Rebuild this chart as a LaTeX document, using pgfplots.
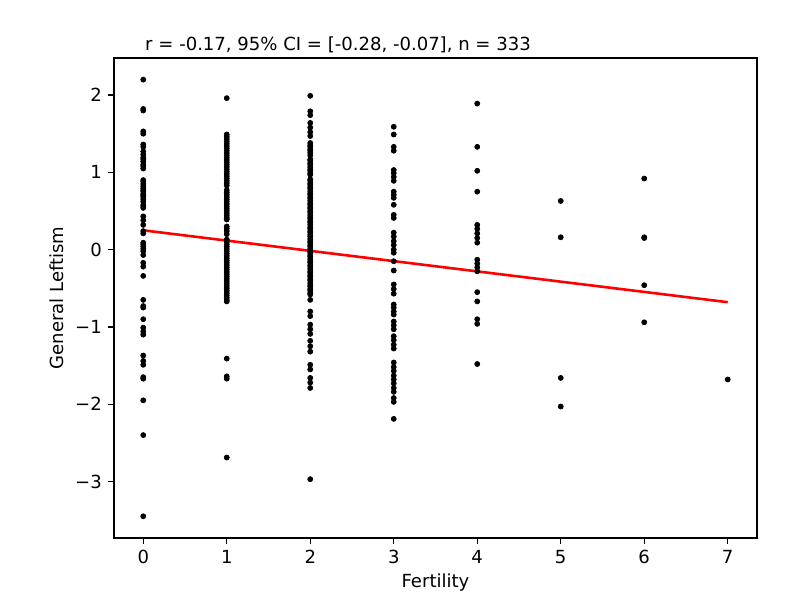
\documentclass[border=0pt]{standalone}
\usepackage{pgfplots}
\pgfplotsset{compat=1.18}
\usepackage{fontspec}
\setmainfont{DejaVu Sans}
\begin{document}
\begin{tikzpicture}
\useasboundingbox (-65.7pt,-36.3pt) rectangle (395.2pt,309.9pt);
\begin{axis}[
  at={(0,0)}, anchor=south west,
  scale only axis, width=370.4pt, height=276.5pt,
  xmin=-0.35, xmax=7.35, ymin=-3.73, ymax=2.48,
  axis line style={line width=0.8pt, black},
  tick style={line width=0.8pt, black},
  tick align=outside, major tick length=3.5pt,
  xtick={0,1,2,3,4,5,6,7},
  xticklabels={0,1,2,3,4,5,6,7},
  ytick={-3,-2,-1,0,1,2},
  yticklabels={−3,−2,−1,0,1,2},
  xtick pos=bottom, ytick pos=left,
  minor tick num=0,
  tick label style={font=\fontsize{10.4}{12}\selectfont},
  label style={font=\fontsize{10.4}{12}\selectfont},
  xlabel={Fertility}, ylabel={General Leftism},
  xlabel style={at={(axis description cs:0.5,-0.104)}, anchor=base},
  ylabel style={at={(axis description cs:-0.089,0.5)}, anchor=center},
  clip=false,
]
\addplot[only marks, mark=*, mark size=1.45pt, black] coordinates {
(0,2.20)(0,1.82)(0,1.80)(0,1.53)(0,1.50)(0,1.36)(0,1.33)(0,1.27)(0,1.23)(0,1.19)(0,1.17)(0,1.14)(0,1.10)(0,1.08)(0,1.05)
(0,0.90)(0,0.88)(0,0.85)(0,0.82)(0,0.79)(0,0.77)(0,0.75)(0,0.72)(0,0.70)(0,0.68)(0,0.65)(0,0.62)(0,0.58)(0,0.56)(0,0.54)
(0,0.43)(0,0.38)(0,0.32)(0,0.24)(0,0.21)(0,0.09)(0,0.07)(0,0.04)(0,0.01)(0,-0.02)(0,-0.07)(0,-0.17)(0,-0.22)(0,-0.34)
(0,-0.65)(0,-0.73)(0,-0.75)(0,-0.90)(0,-1.01)(0,-1.06)(0,-1.10)(0,-1.37)(0,-1.44)(0,-1.49)(0,-1.65)(0,-1.67)(0,-1.95)(0,-2.40)(0,-3.45)
};
\addplot[only marks, mark=*, mark size=1.45pt, black] coordinates {
(1,1.96)(1,1.49)(1,1.46)(1,1.43)(1,1.40)(1,1.37)(1,1.34)(1,1.31)(1,1.28)(1,1.25)(1,1.22)(1,1.19)(1,1.16)(1,1.13)(1,1.10)
(1,1.07)(1,1.04)(1,1.01)(1,0.98)(1,0.95)(1,0.92)(1,0.89)(1,0.86)(1,0.83)(1,0.77)(1,0.74)(1,0.71)(1,0.68)(1,0.65)(1,0.62)
(1,0.59)(1,0.56)(1,0.53)(1,0.50)(1,0.47)(1,0.44)(1,0.41)(1,0.39)(1,0.30)(1,0.27)(1,0.24)(1,0.20)(1,0.13)(1,0.10)(1,0.07)
(1,0.04)(1,0.01)(1,-0.02)(1,-0.05)(1,-0.08)(1,-0.11)(1,-0.14)(1,-0.17)(1,-0.20)(1,-0.23)(1,-0.26)(1,-0.29)(1,-0.32)(1,-0.35)
(1,-0.38)(1,-0.41)(1,-0.44)(1,-0.47)(1,-0.50)(1,-0.53)(1,-0.56)(1,-0.59)(1,-0.62)(1,-0.65)(1,-0.67)(1,-1.41)(1,-1.64)(1,-1.67)(1,-2.69)
};
\addplot[only marks, mark=*, mark size=1.45pt, black] coordinates {
(2,1.99)(2,1.79)(2,1.74)(2,1.64)(2,1.58)(2,1.52)(2,1.47)(2,1.38)(2,1.35)(2,1.33)(2,1.30)(2,1.28)(2,1.25)(2,1.22)(2,1.17)
(2,1.15)(2,1.12)(2,1.10)(2,1.07)(2,1.04)(2,1.02)(2,0.99)(2,0.97)(2,0.91)(2,0.89)(2,0.86)(2,0.84)(2,0.81)(2,0.79)(2,0.76)
(2,0.73)(2,0.71)(2,0.68)(2,0.66)(2,0.63)(2,0.60)(2,0.58)(2,0.55)(2,0.53)(2,0.50)(2,0.48)(2,0.45)(2,0.42)(2,0.40)(2,0.37)
(2,0.35)(2,0.32)(2,0.29)(2,0.27)(2,0.24)(2,0.22)(2,0.19)(2,0.17)(2,0.14)(2,0.11)(2,0.09)(2,0.06)(2,0.04)(2,0.01)(2,-0.02)
(2,-0.04)(2,-0.07)(2,-0.09)(2,-0.12)(2,-0.15)(2,-0.17)(2,-0.20)(2,-0.22)(2,-0.25)(2,-0.28)(2,-0.30)(2,-0.33)(2,-0.35)(2,-0.38)
(2,-0.40)(2,-0.43)(2,-0.46)(2,-0.48)(2,-0.51)(2,-0.53)(2,-0.56)(2,-0.58)(2,-0.65)(2,-0.80)(2,-0.86)(2,-0.97)(2,-1.03)(2,-1.09)
(2,-1.18)(2,-1.25)(2,-1.32)(2,-1.49)(2,-1.55)(2,-1.66)(2,-1.72)(2,-1.79)(2,-2.97)
};
\addplot[only marks, mark=*, mark size=1.45pt, black] coordinates {
(3,1.59)(3,1.49)(3,1.33)(3,1.28)(3,1.03)(3,0.99)(3,0.94)(3,0.89)(3,0.75)(3,0.71)(3,0.67)(3,0.58)(3,0.45)(3,0.41)(3,0.22)
(3,0.17)(3,0.11)(3,0.06)(3,0.00)(3,-0.04)(3,-0.15)(3,-0.27)(3,-0.45)(3,-0.51)(3,-0.57)(3,-0.71)(3,-0.75)(3,-0.80)(3,-0.84)
(3,-0.93)(3,-0.98)(3,-1.03)(3,-1.12)(3,-1.17)(3,-1.23)(3,-1.28)(3,-1.46)(3,-1.52)(3,-1.57)(3,-1.63)(3,-1.68)(3,-1.73)(3,-1.79)
(3,-1.84)(3,-1.92)(3,-1.97)(3,-2.19)
};
\addplot[only marks, mark=*, mark size=1.45pt, black] coordinates {
(4,1.89)(4,1.33)(4,1.02)(4,0.75)(4,0.32)(4,0.27)(4,0.21)(4,0.15)(4,0.09)(4,-0.13)(4,-0.18)(4,-0.23)(4,-0.28)(4,-0.55)
(4,-0.67)(4,-0.90)(4,-0.96)(4,-1.48)
(5,0.63)(5,0.16)(5,-1.66)(5,-2.03)
(6,0.92)(6,0.16)(6,0.15)(6,-0.46)(6,-0.94)
(7,-1.68)
};
\addplot[color={rgb,1:red,1;green,0;blue,0}, line width=1.5pt] coordinates {(0,0.25) (7,-0.68)};
\node[anchor=base west, inner sep=0pt, font=\fontsize{10.4}{12}\selectfont] at (axis description cs:0.048,1.0166) {r = -0.17, 95\% CI = [-0.28, -0.07], n = 333};
\end{axis}
\end{tikzpicture}
\end{document}
